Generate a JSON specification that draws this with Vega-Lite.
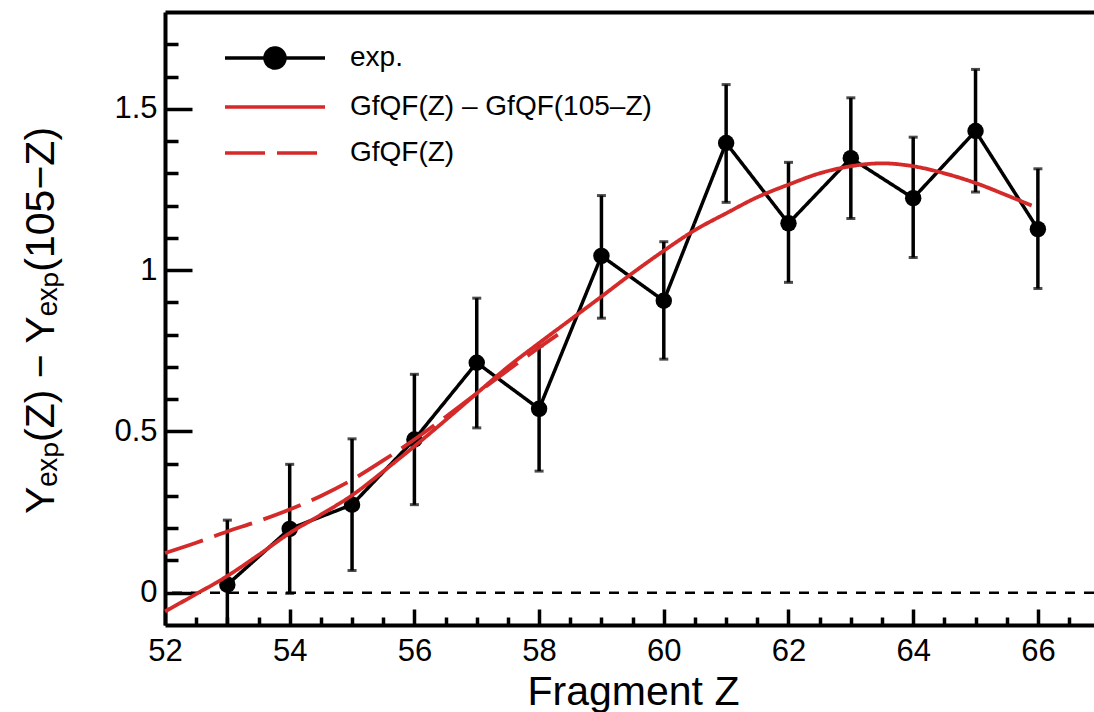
{
  "$schema": "https://vega.github.io/schema/vega-lite/v6.json",
  "autosize": {"type": "none"},
  "padding": {"left": 165, "top": 12, "right": 0, "bottom": 87},
  "width": 929,
  "height": 613,
  "background": "white",
  "config": {
    "font": "Liberation Sans",
    "view": {"stroke": null},
    "axis": {"grid": false, "domainColor": "black", "tickColor": "black", "labelColor": "black", "titleColor": "black", "domainWidth": 4, "tickWidth": 3.5, "labelFont": "Liberation Sans", "titleFont": "Liberation Sans", "titleFontWeight": "normal"}
  },
  "datasets": {
    "zero": [{"level": 0}],
    "exp": [
      {"Z": 53, "y": 0.025, "lo": -0.175, "hi": 0.225, "series": "exp."},
      {"Z": 54, "y": 0.198, "lo": -0.002, "hi": 0.398, "series": "exp."},
      {"Z": 55, "y": 0.273, "lo": 0.069, "hi": 0.477, "series": "exp."},
      {"Z": 56, "y": 0.475, "lo": 0.273, "hi": 0.677, "series": "exp."},
      {"Z": 57, "y": 0.713, "lo": 0.511, "hi": 0.913, "series": "exp."},
      {"Z": 58, "y": 0.570, "lo": 0.377, "hi": 0.765, "series": "exp."},
      {"Z": 59, "y": 1.044, "lo": 0.851, "hi": 1.231, "series": "exp."},
      {"Z": 60, "y": 0.905, "lo": 0.724, "hi": 1.088, "series": "exp."},
      {"Z": 61, "y": 1.394, "lo": 1.210, "hi": 1.575, "series": "exp."},
      {"Z": 62, "y": 1.145, "lo": 0.962, "hi": 1.334, "series": "exp."},
      {"Z": 63, "y": 1.347, "lo": 1.160, "hi": 1.534, "series": "exp."},
      {"Z": 64, "y": 1.223, "lo": 1.039, "hi": 1.412, "series": "exp."},
      {"Z": 65, "y": 1.431, "lo": 1.242, "hi": 1.622, "series": "exp."},
      {"Z": 66, "y": 1.127, "lo": 0.943, "hi": 1.314, "series": "exp."}
    ],
    "curves": [
      {"Z": 52.0, "y": -0.058, "series": "GfQF(Z) – GfQF(105–Z)"},
      {"Z": 52.5, "y": -0.004, "series": "GfQF(Z) – GfQF(105–Z)"},
      {"Z": 53.0, "y": 0.052, "series": "GfQF(Z) – GfQF(105–Z)"},
      {"Z": 53.5, "y": 0.117, "series": "GfQF(Z) – GfQF(105–Z)"},
      {"Z": 54.0, "y": 0.185, "series": "GfQF(Z) – GfQF(105–Z)"},
      {"Z": 54.5, "y": 0.242, "series": "GfQF(Z) – GfQF(105–Z)"},
      {"Z": 55.0, "y": 0.302, "series": "GfQF(Z) – GfQF(105–Z)"},
      {"Z": 55.5, "y": 0.376, "series": "GfQF(Z) – GfQF(105–Z)"},
      {"Z": 56.0, "y": 0.454, "series": "GfQF(Z) – GfQF(105–Z)"},
      {"Z": 56.5, "y": 0.535, "series": "GfQF(Z) – GfQF(105–Z)"},
      {"Z": 57.0, "y": 0.618, "series": "GfQF(Z) – GfQF(105–Z)"},
      {"Z": 57.5, "y": 0.700, "series": "GfQF(Z) – GfQF(105–Z)"},
      {"Z": 58.0, "y": 0.774, "series": "GfQF(Z) – GfQF(105–Z)"},
      {"Z": 58.5, "y": 0.846, "series": "GfQF(Z) – GfQF(105–Z)"},
      {"Z": 59.0, "y": 0.918, "series": "GfQF(Z) – GfQF(105–Z)"},
      {"Z": 59.5, "y": 0.991, "series": "GfQF(Z) – GfQF(105–Z)"},
      {"Z": 60.0, "y": 1.060, "series": "GfQF(Z) – GfQF(105–Z)"},
      {"Z": 60.5, "y": 1.124, "series": "GfQF(Z) – GfQF(105–Z)"},
      {"Z": 61.0, "y": 1.176, "series": "GfQF(Z) – GfQF(105–Z)"},
      {"Z": 61.5, "y": 1.226, "series": "GfQF(Z) – GfQF(105–Z)"},
      {"Z": 62.0, "y": 1.265, "series": "GfQF(Z) – GfQF(105–Z)"},
      {"Z": 62.5, "y": 1.300, "series": "GfQF(Z) – GfQF(105–Z)"},
      {"Z": 63.0, "y": 1.322, "series": "GfQF(Z) – GfQF(105–Z)"},
      {"Z": 63.5, "y": 1.331, "series": "GfQF(Z) – GfQF(105–Z)"},
      {"Z": 64.0, "y": 1.322, "series": "GfQF(Z) – GfQF(105–Z)"},
      {"Z": 64.5, "y": 1.300, "series": "GfQF(Z) – GfQF(105–Z)"},
      {"Z": 65.0, "y": 1.270, "series": "GfQF(Z) – GfQF(105–Z)"},
      {"Z": 65.5, "y": 1.232, "series": "GfQF(Z) – GfQF(105–Z)"},
      {"Z": 65.9, "y": 1.200, "series": "GfQF(Z) – GfQF(105–Z)"},
      {"Z": 52.0, "y": 0.123, "series": "GfQF(Z)"},
      {"Z": 52.5, "y": 0.155, "series": "GfQF(Z)"},
      {"Z": 53.0, "y": 0.190, "series": "GfQF(Z)"},
      {"Z": 53.5, "y": 0.222, "series": "GfQF(Z)"},
      {"Z": 54.0, "y": 0.258, "series": "GfQF(Z)"},
      {"Z": 54.5, "y": 0.300, "series": "GfQF(Z)"},
      {"Z": 55.0, "y": 0.350, "series": "GfQF(Z)"},
      {"Z": 55.5, "y": 0.410, "series": "GfQF(Z)"},
      {"Z": 56.0, "y": 0.475, "series": "GfQF(Z)"},
      {"Z": 56.5, "y": 0.545, "series": "GfQF(Z)"},
      {"Z": 57.0, "y": 0.618, "series": "GfQF(Z)"},
      {"Z": 57.5, "y": 0.690, "series": "GfQF(Z)"},
      {"Z": 58.0, "y": 0.760, "series": "GfQF(Z)"},
      {"Z": 58.3, "y": 0.800, "series": "GfQF(Z)"}
    ]
  },
  "resolve": {"axis": {"x": "independent", "y": "independent"}},
  "layer": [
    {
      "data": {"name": "zero"},
      "mark": {"type": "rule", "strokeDash": [10, 9], "strokeWidth": 2.5, "color": "black"},
      "encoding": {"y": {"field": "level", "type": "quantitative", "scale": {"domain": [-0.1, 1.8], "nice": false, "zero": false}, "axis": null}}
    },
    {
      "data": {"name": "exp"},
      "mark": {"type": "rule", "strokeWidth": 3.5, "color": "black", "clip": true},
      "encoding": {
        "x": {"field": "Z", "type": "quantitative", "scale": {"domain": [52, 66.9], "nice": false, "zero": false},
          "axis": {"orient": "bottom", "values": [52, 54, 56, 58, 60, 62, 64, 66], "tickSize": -16, "labelPadding": 51, "labelBaseline": "alphabetic", "labelFontSize": 31, "labelFlush": false, "title": "Fragment Z", "titleFontSize": 41, "titleX": 468, "titleY": 79, "titleAlign": "center", "titleBaseline": "alphabetic"}},
        "y": {"field": "lo", "type": "quantitative", "scale": {"domain": [-0.1, 1.8], "nice": false, "zero": false},
          "axis": {"orient": "left", "values": [0, 0.5, 1, 1.5], "tickSize": -27, "labelPadding": 35, "labelFontSize": 31, "labelExpr": "datum.value === 0 ? '0' : datum.value === 1 ? '1' : datum.label", "title": "Yₑₓₚ(Z) − Yₑₓₚ(105−Z)", "titleFontSize": 41, "titleAngle": -90, "titleX": -112, "titleY": 308, "titleAlign": "center", "titleBaseline": "alphabetic"}},
        "y2": {"field": "hi"}
      }
    },
    {
      "data": {"name": "exp"},
      "mark": {"type": "tick", "orient": "horizontal", "size": 9, "thickness": 3, "color": "black", "clip": true},
      "encoding": {
        "x": {"field": "Z", "type": "quantitative", "scale": {"domain": [52, 66.9], "nice": false, "zero": false},
          "axis": {"orient": "bottom", "values": [52.5, 53, 53.5, 54.5, 55, 55.5, 56.5, 57, 57.5, 58.5, 59, 59.5, 60.5, 61, 61.5, 62.5, 63, 63.5, 64.5, 65, 65.5, 66.5], "tickSize": -8, "labels": false, "domain": false, "title": null}},
        "y": {"field": "lo", "type": "quantitative", "scale": {"domain": [-0.1, 1.8], "nice": false, "zero": false},
          "axis": {"orient": "left", "values": [0.1, 0.2, 0.3, 0.4, 0.6, 0.7, 0.8, 0.9, 1.1, 1.2, 1.3, 1.4, 1.6, 1.7], "tickSize": -13, "labels": false, "domain": false, "title": null}}
      }
    },
    {
      "data": {"name": "exp"},
      "mark": {"type": "tick", "orient": "horizontal", "size": 9, "thickness": 3, "color": "black", "clip": true},
      "encoding": {
        "x": {"field": "Z", "type": "quantitative", "scale": {"domain": [52, 66.9], "nice": false, "zero": false},
          "axis": {"orient": "top", "ticks": false, "labels": false, "domain": true, "title": null}},
        "y": {"field": "hi", "type": "quantitative", "scale": {"domain": [-0.1, 1.8], "nice": false, "zero": false}, "axis": null}
      }
    },
    {
      "data": {"name": "exp"},
      "mark": {"type": "line", "strokeWidth": 3.5},
      "encoding": {
        "x": {"field": "Z", "type": "quantitative", "scale": {"domain": [52, 66.9], "nice": false, "zero": false}, "axis": null},
        "y": {"field": "y", "type": "quantitative", "scale": {"domain": [-0.1, 1.8], "nice": false, "zero": false}, "axis": null},
        "color": {"field": "series", "type": "nominal", "scale": {"domain": ["exp.", "GfQF(Z) – GfQF(105–Z)", "GfQF(Z)"], "range": ["black", "#d42a2a", "#d42a2a"]},
          "legend": {"orient": "none", "legendX": 96, "legendY": 32, "title": null, "padding": 0, "symbolSize": 400, "symbolStrokeWidth": 3.5, "labelFontSize": 28, "labelOffset": 61, "labelLimit": 0, "rowPadding": 18, "labelColor": "black",
            "encode": {"symbols": {"update": {
              "shape": {"signal": "datum.label === 'exp.' ? 'M-5,0H5M1,0A1,1,0,1,1,-1,0A1,1,0,1,1,1,0Z' : 'M-5,0H5'"},
              "fill": {"signal": "datum.label === 'exp.' ? 'black' : 'transparent'"}
            }}}}},
        "strokeDash": {"field": "series", "type": "nominal", "scale": {"domain": ["exp.", "GfQF(Z) – GfQF(105–Z)", "GfQF(Z)"], "range": [[1, 0], [1, 0], [40, 12]]}}
      }
    },
    {
      "data": {"name": "exp"},
      "mark": {"type": "circle", "size": 270, "color": "black", "opacity": 1},
      "encoding": {
        "x": {"field": "Z", "type": "quantitative", "scale": {"domain": [52, 66.9], "nice": false, "zero": false}, "axis": null},
        "y": {"field": "y", "type": "quantitative", "scale": {"domain": [-0.1, 1.8], "nice": false, "zero": false}, "axis": null}
      }
    },
    {
      "data": {"name": "curves"},
      "mark": {"type": "line", "strokeWidth": 3.8, "interpolate": "monotone"},
      "encoding": {
        "x": {"field": "Z", "type": "quantitative", "scale": {"domain": [52, 66.9], "nice": false, "zero": false}, "axis": null},
        "y": {"field": "y", "type": "quantitative", "scale": {"domain": [-0.1, 1.8], "nice": false, "zero": false}, "axis": null},
        "color": {"field": "series", "type": "nominal"},
        "strokeDash": {"field": "series", "type": "nominal"}
      }
    }
  ]
}
